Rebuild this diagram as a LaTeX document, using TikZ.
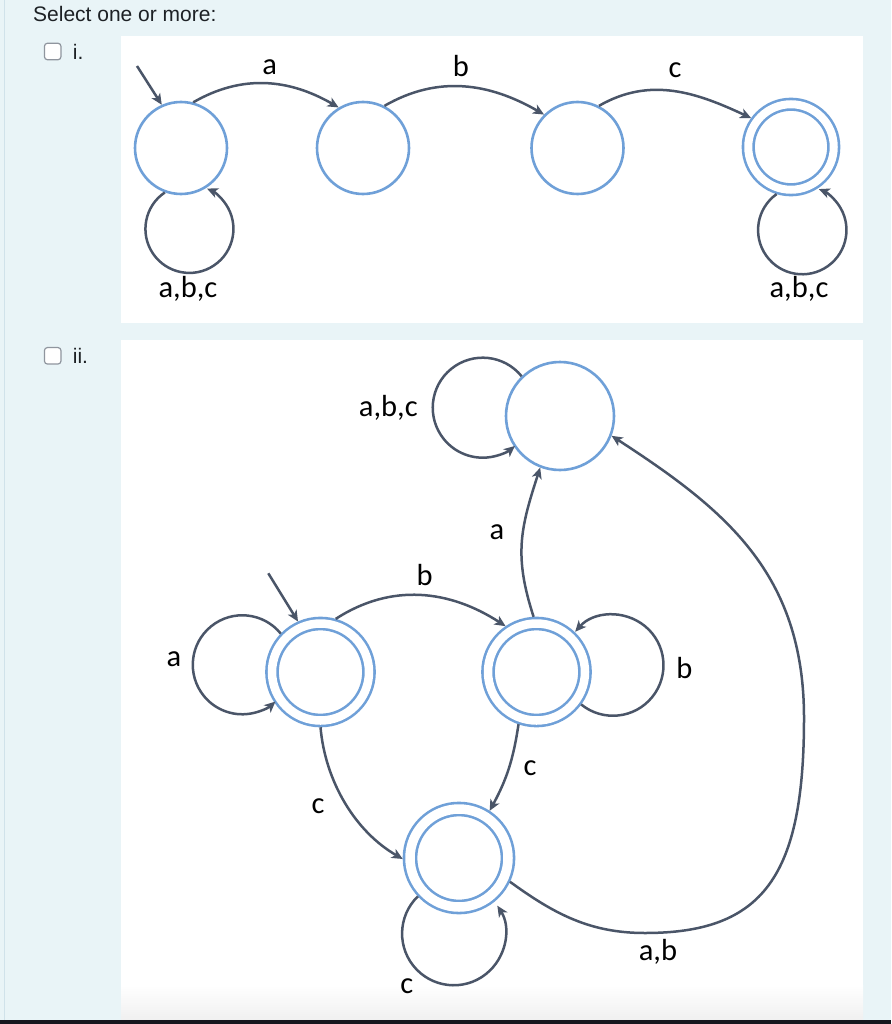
\documentclass[tikz,border=0pt]{standalone}
\usepackage{fontspec}
\setmainfont{Liberation Sans}
\newfontfamily\lblfont{Carlito}
\usetikzlibrary{arrows.meta}
\definecolor{bgblue}{HTML}{E9F4F7}
\definecolor{stateblue}{HTML}{6FA0D8}
\definecolor{edgecol}{HTML}{4A5568}
\definecolor{txt}{HTML}{1D2125}
\definecolor{boxgray}{HTML}{8F959E}
\definecolor{borderc}{HTML}{D0E2EA}
\definecolor{barc}{HTML}{16161E}
\begin{document}
\begin{tikzpicture}[x=1pt,y=1pt,
  st/.style={circle, draw=stateblue, line width=2.6pt, fill=white, inner sep=0pt, minimum size=#1},
  acc/.style n args={3}{circle, draw=stateblue, line width=2.6pt, double=white, double distance=#2, fill=white, inner sep=0pt, minimum size=#1, outer sep=#3},
  tr/.style={draw=edgecol, line width=2.5pt, -{Stealth[length=11pt,width=10pt,inset=3pt]}},
  lbl/.style={font=\lblfont\fontsize{30.5}{32}\selectfont, inner sep=0pt, anchor=base, text=black},
  chk/.style={draw=boxgray, fill=white, rounded corners=3pt, minimum size=16.5pt, line width=1.2pt, inner sep=0pt},
  qtext/.style={anchor=base west, inner sep=0pt, text=txt, font=\fontsize{21}{24}\selectfont}
]
\useasboundingbox (0,0) rectangle (891,-1024);
% backgrounds
\fill[bgblue] (0,0) rectangle (891,-1024);
\draw[borderc, line width=1.5pt] (4.5,0) -- (4.5,-1020);
\fill[white] (121,-36) rectangle (863,-323);
\fill[white] (121,-340) rectangle (863,-1020);
\shade[top color=white, bottom color=black!6] (121,-985) rectangle (863,-1020);
\fill[barc] (0,-1019.5) rectangle (891,-1024);

% question text
\node[qtext] (q) at (33,-21.7) {Select one or more:};
\node[chk] (cb1) at (52.7,-51.5) {};
\node[qtext] (o1) at (72.7,-60) {i.};
\node[chk] (cb2) at (52.7,-355.8) {};
\node[qtext] (o2) at (72.7,-363.3) {ii.};

% ---------- panel i ----------
\node[st=92pt] (s1) at (181,-148) {};
\node[st=92pt] (s2) at (363,-148) {};
\node[st=92pt] (s3) at (577.5,-148) {};
\node[acc={85.5pt}{8pt}{6.5pt}] (s4) at (791,-147) {};

\coordinate (i1) at (137,-66);
\draw[tr] (i1) -- (s1.114);
\draw[tr] (s1.75) to[out=30,in=150] (s2.121);
\draw[tr] (s2.63) to[out=30,in=150] (s3.135);
\draw[tr] (s3.63) to[out=30,in=155] (s4.144);
\draw[tr] (s1.250) arc[start angle=124, end angle=426.5, radius=44];
\draw[tr] (s4.253) arc[start angle=125.5, end angle=428, radius=44.2];

\node[lbl] (la1) at (269.7,-74.3) {a};
\node[lbl] (lb1) at (461,-77) {b};
\node[lbl] (lc1) at (675,-78) {c};
\node[lbl] (ll1) at (188,-297) {a,b,c};
\node[lbl] (ll4) at (799,-297) {a,b,c};

% ---------- panel ii ----------
\node[st=108pt] (T) at (560,-416) {};
\node[acc={97pt}{8.5pt}{6.75pt}] (L) at (320.5,-672) {};
\node[acc={97pt}{8.5pt}{6.75pt}] (R) at (536.5,-672) {};
\node[acc={98pt}{9.5pt}{7.25pt}] (B) at (459,-858) {};

\coordinate (i2) at (268.3,-573.3);
\coordinate (ab1) at (645,-933);
\coordinate (ab2) at (804,-718);

\draw[tr] (i2) -- (L.114);
\draw[tr] (T.134) arc[start angle=39, end angle=310, radius=50];
\draw[tr] (L.136) arc[start angle=39, end angle=312, radius=49.5];
\draw[tr] (R.324) arc[start angle=231, end angle=498.5, radius=50.5];
\draw[tr] (B.223) arc[start angle=134, end angle=392.6, radius=51.7];
\draw[tr] (L.74) to[out=33,in=147] (R.124);
\draw[tr] (R.93) to[out=108,in=252,looseness=1.1] (T.249);
\draw[tr] (R.251) to[bend left=10] (B.57);
\draw[tr] (L.270) to[out=275,in=150,looseness=0.9] (B.181);
\draw[tr] (B.335) .. controls +(-36:55) and +(180:55) .. (ab1)
   .. controls +(0:118.5) and +(-90:158) .. (ab2)
   .. controls +(90:145) and +(-33:135) .. (T.339);

\node[lbl] (lt) at (388.3,-416.7) {a,b,c};
\node[lbl] (lb) at (424.7,-585) {b};
\node[lbl] (la) at (497,-539) {a};
\node[lbl] (lla) at (174,-666.7) {a};
\node[lbl] (lrb) at (684.5,-678.3) {b};
\node[lbl] (lrc) at (530,-775) {c};
\node[lbl] (llc) at (318,-813.3) {c};
\node[lbl] (lbc) at (406.7,-993.3) {c};
\node[lbl] (lab) at (658,-960) {a,b};
\end{tikzpicture}
\end{document}
